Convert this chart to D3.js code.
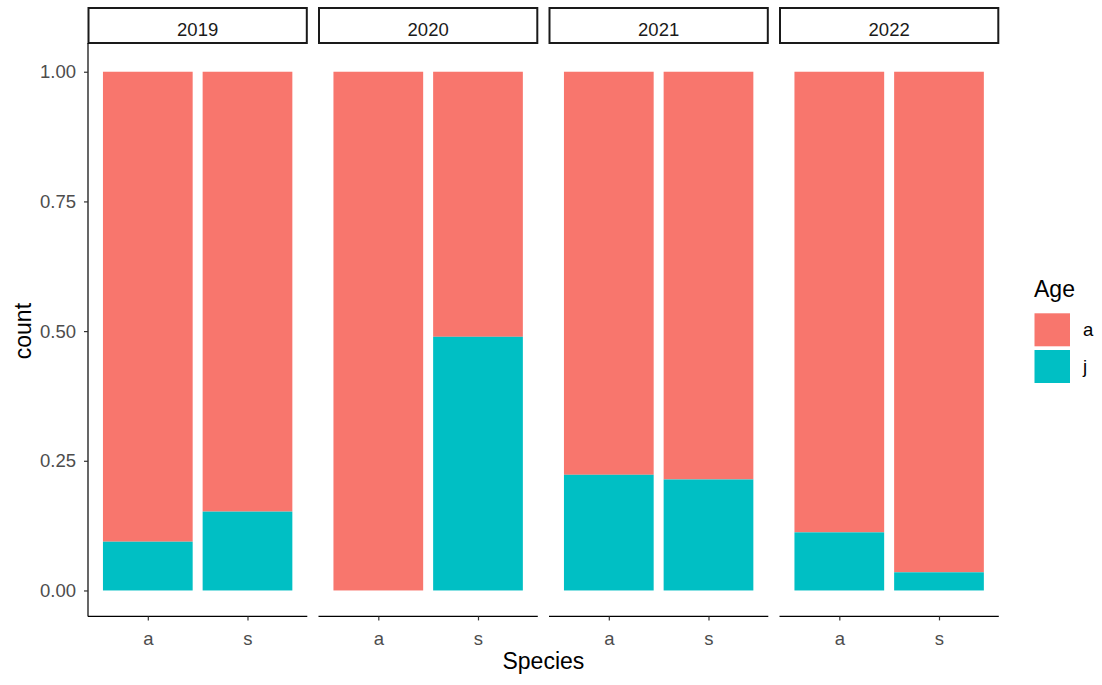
<!DOCTYPE html>
<html>
<head>
<meta charset="utf-8">
<script src="https://cdn.jsdelivr.net/npm/d3@7"></script>
<style>
	body { margin: 0; background: #fff; }
	text { font-family: "Liberation Sans", Arial, sans-serif; }
</style>
</head>
<body>
<div id="chart"></div>
<script>
// data (proportion of juveniles per species / year)
var years = ['2019', '2020', '2021', '2022'];
var species = ['a', 's'];
var ages = ['a', 'j'];
var juvShare = {
	'2019': [0.094, 0.152],
	'2020': [0.0, 0.489],
	'2021': [0.223, 0.214],
	'2022': [0.112, 0.035]
};
var yTicks = [0, 0.25, 0.5, 0.75, 1];
var ageColors = ['#F8766D', '#00BFC4'];

var width = 1102, height = 685;
var panelLeft = 88, panelW = 219.3, panelGap = 11.2;
var stripTop = 8, stripH = 35;
var plotTop = 45.8, plotBottom = 616.4;
var tickFont = 18.5, titleFont = 23;

var svg = d3.select('#chart').append('svg')
	.attr('width', width)
	.attr('height', height);

var y = d3.scaleLinear()
	.domain([-0.05, 1.05])
	.range([plotBottom, plotTop]);

var color = d3.scaleOrdinal().domain(ages).range(ageColors);

// discrete positions 1..n with 0.6 expansion each side, bars 0.9 wide
var xl = d3.scaleLinear()
	.domain([0.4, species.length + 0.6])
	.range([0, panelW]);
var barW = xl(0.9) - xl(0);
var xp = d3.scalePoint()
	.domain(species)
	.range([xl(1), xl(species.length)]);

years.forEach(function(yr, i) {
	var x0 = panelLeft + i * (panelW + panelGap);
	var g = svg.append('g').attr('transform', 'translate(' + x0 + ',0)');

	// stacked bars: j at bottom, a on top
	species.forEach(function(sp, k) {
		var j = juvShare[yr][k];
		var segs = [
			{ age: 'a', y0: j, y1: 1 },
			{ age: 'j', y0: 0, y1: j }
		];
		g.selectAll(null)
			.data(segs.filter(function(d) { return d.y1 > d.y0; }))
			.enter().append('rect')
			.attr('x', xp(sp) - barW / 2)
			.attr('width', barW)
			.attr('y', function(d) { return y(d.y1); })
			.attr('height', function(d) { return y(d.y0) - y(d.y1); })
			.attr('fill', function(d) { return color(d.age); });
	});

	// strip
	g.append('rect')
		.attr('x', 0.5).attr('y', stripTop)
		.attr('width', panelW - 1).attr('height', stripH)
		.attr('fill', '#fff')
		.attr('stroke', '#1a1a1a')
		.attr('stroke-width', 2);
	g.append('text')
		.attr('x', panelW / 2).attr('y', 36)
		.attr('text-anchor', 'middle')
		.attr('font-size', tickFont)
		.attr('fill', '#1a1a1a')
		.text(yr);

	// bottom axis
	var xAxis = g.append('g')
		.attr('transform', 'translate(0,' + plotBottom + ')')
		.call(d3.axisBottom(xp).tickSize(4).tickSizeOuter(0));
	xAxis.select('.domain').attr('stroke', '#000').attr('stroke-width', 1.2)
		.attr('d', 'M0,0H' + panelW);
	xAxis.selectAll('.tick line').attr('stroke', '#333').attr('stroke-width', 1.2);
	xAxis.selectAll('.tick text')
		.attr('font-size', tickFont).attr('fill', '#4d4d4d')
		.attr('font-family', '"Liberation Sans", Arial, sans-serif')
		.attr('y', 28.5).attr('dy', null);

	if (i === 0) {
		var yAxis = g.append('g')
			.call(d3.axisLeft(y).tickValues(yTicks).tickFormat(d3.format('.2f')).tickSize(4).tickSizeOuter(0));
		yAxis.select('.domain').attr('stroke', '#000').attr('stroke-width', 1.2)
			.attr('d', 'M0,' + (stripTop + stripH) + 'V' + plotBottom);
		yAxis.selectAll('.tick line').attr('stroke', '#333').attr('stroke-width', 1.2);
		yAxis.selectAll('.tick text')
			.attr('font-size', tickFont).attr('fill', '#4d4d4d')
			.attr('font-family', '"Liberation Sans", Arial, sans-serif')
			.attr('x', -12);
	}
});

// axis titles
var xMid = panelLeft + (years.length * panelW + (years.length - 1) * panelGap) / 2;
svg.append('text')
	.attr('x', xMid).attr('y', 669)
	.attr('text-anchor', 'middle')
	.attr('font-size', titleFont)
	.attr('fill', '#000')
	.text('Species');
svg.append('text')
	.attr('transform', 'translate(31,' + ((plotTop + plotBottom) / 2) + ') rotate(-90)')
	.attr('text-anchor', 'middle')
	.attr('font-size', titleFont)
	.attr('fill', '#000')
	.text('count');

// legend
var legend = svg.append('g').attr('transform', 'translate(1034,0)');
legend.append('text')
	.attr('x', 0).attr('y', 297)
	.attr('font-size', titleFont)
	.attr('fill', '#000')
	.text('Age');
legend.selectAll('rect.key')
	.data(ages)
	.enter().append('rect')
	.attr('class', 'key')
	.attr('x', 0.5)
	.attr('y', function(d, k) { return 313.3 + k * 36.7; })
	.attr('width', 35.5).attr('height', 33)
	.attr('fill', function(d) { return color(d); });
legend.selectAll('text.lab')
	.data(ages)
	.enter().append('text')
	.attr('class', 'lab')
	.attr('x', 49)
	.attr('y', function(d, k) { return 336 + k * 36.7; })
	.attr('font-size', tickFont)
	.attr('fill', '#000')
	.text(function(d) { return d; });
</script>
</body>
</html>
